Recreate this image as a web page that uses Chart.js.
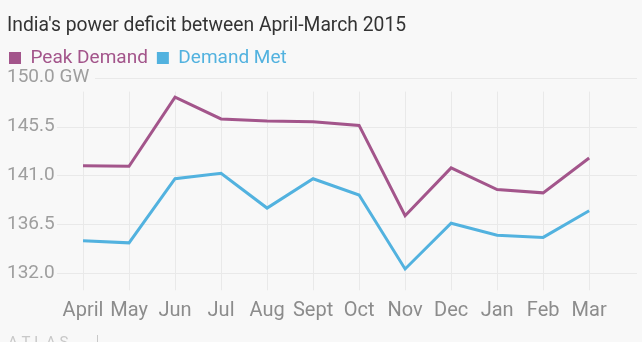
<!DOCTYPE html>
<html>
<head>
<meta charset="utf-8">
<script src="https://cdn.jsdelivr.net/npm/chart.js@4.4.1/dist/chart.umd.min.js"></script>
<style>
  html, body { margin: 0; padding: 0; background: #f8f8f8; }
  #wrap { position: relative; width: 642px; height: 342px; }
</style>
</head>
<body>
<div id="wrap"><canvas id="deficitChart" width="642" height="342"></canvas></div>
<script>
// Monthly figures, GW
const months = ['April', 'May', 'Jun', 'Jul', 'Aug', 'Sept', 'Oct', 'Nov', 'Dec', 'Jan', 'Feb', 'Mar'];
const peakDemand = [141.9, 141.85, 148.2, 146.2, 146.0, 145.95, 145.6, 137.3, 141.7, 139.7, 139.4, 142.6];
const demandMet = [135.0, 134.8, 140.7, 141.2, 138.0, 140.7, 139.2, 132.4, 136.6, 135.5, 135.3, 137.75];
const yTicks = [132.0, 136.5, 141.0, 145.5, 150.0];

const PEAK = '#a3558b';
const MET = '#52b2df';
const GRID = '#e9e9e9';

const toPoints = arr => arr.map((v, i) => ({ x: i, y: v }));

// grid lines drawn under the series
const gridLines = {
  id: 'gridLines',
  afterLayout(chart) {
    // title sits a little in from the edge
    if (chart.titleBlock) chart.titleBlock.left = 7;
  },
  beforeDatasetsDraw(chart) {
    const { ctx, chartArea, scales: { x, y } } = chart;
    ctx.save();
    ctx.strokeStyle = GRID;
    ctx.lineWidth = 1;
    yTicks.forEach(t => {
      const py = Math.round(y.getPixelForValue(t)) + 0.5;
      const startX = t === 150 ? 95 : 57;
      ctx.beginPath();
      ctx.moveTo(startX, py);
      ctx.lineTo(chartArea.right, py);
      ctx.stroke();
    });
    months.forEach((m, i) => {
      const px = Math.round(x.getPixelForValue(i)) + 0.5;
      ctx.beginPath();
      ctx.moveTo(px, chartArea.top + 14);
      ctx.lineTo(px, chartArea.bottom + 17);
      ctx.stroke();
    });
    ctx.restore();
  },
  afterDraw(chart) {
    // footer mark, mostly below the bottom edge
    const { ctx } = chart;
    ctx.save();
    ctx.fillStyle = '#c8c8c8';
    ctx.font = '15px Roboto';
    ctx.textBaseline = 'top';
    ctx.fillText('A T L A S', 8, 336);
    ctx.fillRect(97, 335, 1, 7);
    ctx.restore();
  }
};

new Chart(document.getElementById('deficitChart'), {
  type: 'line',
  data: {
    datasets: [
      { label: 'Peak Demand', data: toPoints(peakDemand), borderColor: PEAK, backgroundColor: PEAK },
      { label: 'Demand Met', data: toPoints(demandMet), borderColor: MET, backgroundColor: MET }
    ]
  },
  options: {
    responsive: false,
    animation: false,
    layout: { padding: { left: 0, right: 5, top: 0, bottom: 0 } },
    elements: {
      line: { borderWidth: 3, tension: 0, borderJoinStyle: 'miter' },
      point: { radius: 0, hoverRadius: 0 }
    },
    plugins: {
      tooltip: { enabled: false },
      title: {
        display: true,
        align: 'start',
        text: "India's power deficit between April-March 2015",
        color: '#333333',
        font: { family: 'Roboto', size: 19.3, weight: 'normal' },
        padding: { top: 3, bottom: 2 }
      },
      legend: {
        display: true,
        align: 'start',
        labels: {
          boxWidth: 12,
          boxHeight: 12,
          padding: 9,
          font: { family: 'Roboto', size: 19 },
          generateLabels(chart) {
            return chart.data.datasets.map((ds, i) => ({
              text: ds.label,
              fillStyle: ds.borderColor,
              strokeStyle: ds.borderColor,
              lineWidth: 0,
              fontColor: ds.borderColor,
              datasetIndex: i
            }));
          }
        }
      }
    },
    scales: {
      x: {
        type: 'linear',
        min: -1.804,
        max: 12.04,
        grid: { display: false },
        border: { display: false },
        afterBuildTicks(scale) {
          scale.ticks = months.map((m, i) => ({ value: i }));
        },
        afterFit(scale) {
          scale.height = 68.7;
          scale.paddingLeft = 0;
          scale.paddingRight = 0;
        },
        ticks: {
          autoSkip: false,
          maxRotation: 0,
          padding: 18,
          color: '#8c8c8c',
          font: { family: 'Roboto', size: 20 },
          callback: v => months[v]
        }
      },
      y: {
        min: 132,
        max: 150,
        grid: { display: false, drawTicks: false },
        border: { display: false },
        afterBuildTicks(scale) {
          scale.ticks = yTicks.map(v => ({ value: v }));
        },
        afterFit(scale) {
          // labels float over the plot; keep its top clear of the legend
          scale.width = 0;
          scale.paddingTop = 77.6;
        },
        ticks: {
          mirror: true,
          padding: 7,
          color: '#9e9e9e',
          font: { family: 'Roboto', size: 19 },
          callback: v => v === 150 ? '150.0 GW' : v.toFixed(1)
        }
      }
    }
  },
  plugins: [gridLines]
});
</script>
</body>
</html>
